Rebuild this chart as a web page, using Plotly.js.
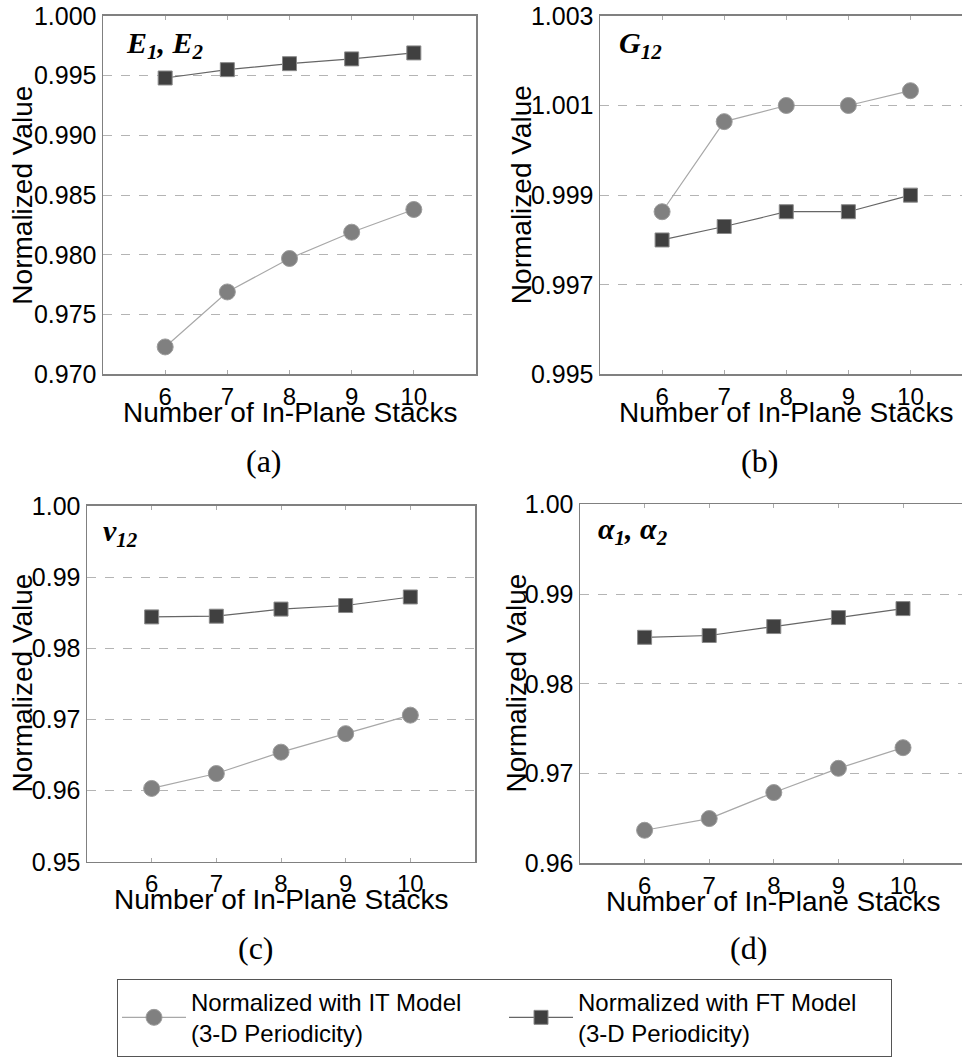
<!DOCTYPE html>
<html>
<head>
<meta charset="utf-8">
<script src="https://cdn.plot.ly/plotly-3.0.1.min.js"></script>
<style>html,body{margin:0;padding:0;background:#fff;}#chart{width:962px;height:1057px;}</style>
</head>
<body>
<div id="chart"></div>
<script>
// ---- data ----
const stacks = [6, 7, 8, 9, 10];
const e_it  = [0.9723, 0.9769, 0.9797, 0.9819, 0.9838];
const e_ft  = [0.9948, 0.9955, 0.9960, 0.9964, 0.9969];
const g_it  = [0.99863, 1.00064, 1.0010, 1.0010, 1.00133];
const g_ft  = [0.9980, 0.9983, 0.99863, 0.99863, 0.9990];
const nu_it = [0.9603, 0.9624, 0.9654, 0.9680, 0.9706];
const nu_ft = [0.9844, 0.9845, 0.9855, 0.9860, 0.9872];
const a_it  = [0.9637, 0.9650, 0.9679, 0.9706, 0.9729];
const a_ft  = [0.9852, 0.9854, 0.9864, 0.9874, 0.9884];

const seriesNames = ['Normalized with IT Model<br>(3-D Periodicity)', 'Normalized with FT Model<br>(3-D Periodicity)'];
const panelLabels = ['(a)', '(b)', '(c)', '(d)'];
const propLabels = ['<b><i>E<sub>1</sub>, E<sub>2</sub></i></b>', '<b><i>G<sub>12</sub></i></b>', '<b><i>ν<sub>12</sub></i></b>', '<b><i>α<sub>1</sub>, α<sub>2</sub></i></b>'];
const xTitle = 'Number of In-Plane Stacks';
const yTitle = 'Normalized Value';

// ---- layout helpers ----
const W = 962, H = 1057;
const px = v => v / W;
const py = v => 1 - v / H;

const panels = [
  {it: e_it,  ft: e_ft,  xd: [103, 476], yd: [16, 378],     xr: [5, 11],     yr: [0.970, 1.000], tv: [0.970,0.975,0.980,0.985,0.990,0.995,1.000], fmt: '.3f', right: true,
   yt: [22.5, 197], xt: [290, 416], pl: [264, 465], lab: [124, 45]},
  {it: g_it,  ft: g_ft,  xd: [600, 962], yd: [16, 378],     xr: [5, 10.83],  yr: [0.995, 1.003], tv: [0.995,0.997,0.999,1.001,1.003], fmt: '.3f', right: false,
   yt: [521, 197], xt: [786, 416], pl: [759, 465], lab: [617, 45]},
  {it: nu_it, ft: nu_ft, xd: [87, 475],  yd: [510.7, 870], xr: [5, 11],     yr: [0.95, 1.00],   tv: [0.95,0.96,0.97,0.98,0.99,1.00], fmt: '.2f', right: true,
   yt: [22, 690], xt: [281, 908], pl: [256, 957], lab: [101, 538]},
  {it: a_it,  ft: a_ft,  xd: [580, 962], yd: [509.3, 871.7], xr: [5, 10.913], yr: [0.96, 1.00],  tv: [0.96,0.97,0.98,0.99,1.00], fmt: '.2f', right: false,
   yt: [516, 690], xt: [773, 910], pl: [748, 957], lab: [596, 536]}
];

const traces = [];
const layout = {
  width: W, height: H,
  margin: {l: 0, r: 0, t: 0, b: 0},
  paper_bgcolor: '#ffffff', plot_bgcolor: '#ffffff',
  font: {family: 'Liberation Sans, Arial, sans-serif', color: '#000', size: 25},
  showlegend: true,
  legend: {
    orientation: 'h', x: px(117), y: py(988), xanchor: 'left', yanchor: 'top',
    bordercolor: '#555', borderwidth: 1, bgcolor: '#fff',
    font: {size: 24, family: 'Liberation Sans, Arial, sans-serif'},
    itemwidth: 64, entrywidth: 308, valign: 'middle'
  },
  annotations: []
};

panels.forEach((p, i) => {
  const n = i + 1;
  const xa = n === 1 ? 'x' : 'x' + n;
  const ya = n === 1 ? 'y' : 'y' + n;
  traces.push({
    x: stacks, y: p.it, xaxis: xa, yaxis: ya, type: 'scatter', mode: 'lines+markers',
    name: seriesNames[0], legendgroup: 'it', showlegend: i === 0,
    line: {color: '#a8a8a8', width: 1.2},
    marker: {symbol: 'circle', size: 16, color: '#808080', line: {color: '#9c9c9c', width: 1}}
  });
  traces.push({
    x: stacks, y: p.ft, xaxis: xa, yaxis: ya, type: 'scatter', mode: 'lines+markers',
    name: seriesNames[1], legendgroup: 'ft', showlegend: i === 0,
    line: {color: '#666666', width: 1.2},
    marker: {symbol: 'square', size: 14, color: '#404040', line: {color: '#8a8a8a', width: 1}}
  });
  const xk = n === 1 ? 'xaxis' : 'xaxis' + n;
  const yk = n === 1 ? 'yaxis' : 'yaxis' + n;
  layout[xk] = {
    domain: [px(p.xd[0]), px(p.xd[1])], range: p.xr, anchor: ya,
    tickmode: 'array', tickvals: stacks, ticktext: stacks.map(String),
    ticks: 'inside', ticklen: 4, tickcolor: '#aaaaaa', tickwidth: 1,
    showline: true, linecolor: '#808080', linewidth: 1.5, mirror: 'ticks',
    showgrid: false, zeroline: false, tickfont: {size: 24}, fixedrange: true
  };
  layout[yk] = {
    domain: [py(p.yd[1]), py(p.yd[0])], range: p.yr, anchor: xa,
    tickmode: 'array', tickvals: p.tv, tickformat: p.fmt,
    ticks: '', showline: true, linecolor: '#808080', linewidth: 1.5, mirror: p.right,
    showgrid: true, gridcolor: '#b4b4b4', gridwidth: 1, griddash: 'dash',
    zeroline: false, tickfont: {size: 25}, fixedrange: true
  };
  layout.annotations.push({
    xref: 'paper', yref: 'paper', x: px(p.yt[0]), y: py(p.yt[1]), text: yTitle,
    textangle: -90, showarrow: false, xanchor: 'center', yanchor: 'middle',
    font: {size: 28}
  });
  layout.annotations.push({
    xref: 'paper', yref: 'paper', x: px(p.xt[0]), y: py(p.xt[1]), text: xTitle,
    showarrow: false, xanchor: 'center', yanchor: 'middle', font: {size: 28}
  });
  layout.annotations.push({
    xref: 'paper', yref: 'paper', x: px(p.pl[0]), y: py(p.pl[1]), text: panelLabels[i],
    showarrow: false, xanchor: 'center', yanchor: 'middle',
    font: {size: 32, family: 'Liberation Serif, Times New Roman, serif'}
  });
  layout.annotations.push({
    xref: 'paper', yref: 'paper', x: px(p.lab[0]), y: py(p.lab[1]), text: propLabels[i],
    showarrow: false, xanchor: 'left', yanchor: 'middle',
    font: {size: 30, family: 'Liberation Serif, Times New Roman, serif'}
  });
});

Plotly.newPlot('chart', traces, layout, {displayModeBar: false, staticPlot: true});
</script>
</body>
</html>
